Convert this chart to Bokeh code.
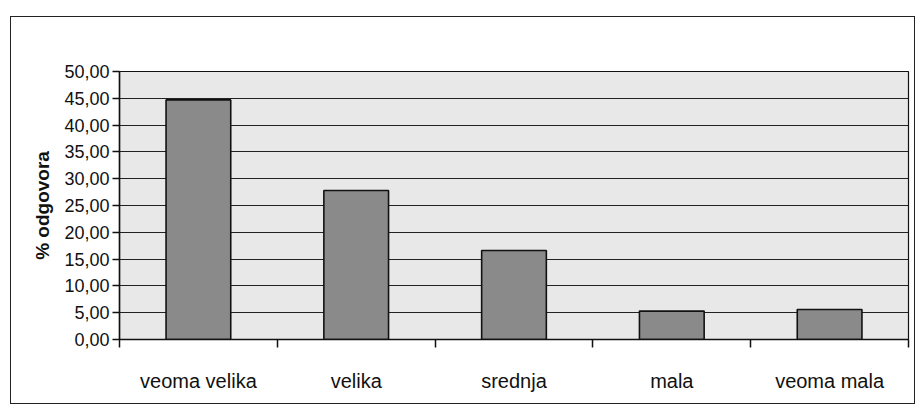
import numpy as np
from bokeh.plotting import figure
from bokeh.models import (Range1d, LinearAxis, FixedTicker, CustomJSTickFormatter,
                          ColumnDataSource, Spacer, Column, Row, Grid)
from bokeh.embed import file_html
from bokeh.resources import INLINE

categories = ["veoma velika", "velika", "srednja", "mala", "veoma mala"]
values = [44.7, 27.8, 16.6, 5.3, 5.6]
y_ticks = [0, 5, 10, 15, 20, 25, 30, 35, 40, 45, 50]
y_label = "% odgovora"

x_pos = np.arange(len(categories)) + 0.5
src = ColumnDataSource(dict(x=x_pos, top=values, cat=categories))

p = figure(width=905, height=388, output_backend="svg", toolbar_location=None,
           x_range=Range1d(0, len(categories)), y_range=Range1d(0, 50),
           x_axis_location=None, y_axis_location=None,
           min_border_left=108, min_border_right=8, min_border_top=54,
           min_border_bottom=66)
p.styles = {"border": "1.5px solid #222", "box-sizing": "border-box"}
p.background_fill_color = "#e8e8e8"
p.border_fill_color = "white"
p.outline_line_color = "#111"
p.outline_line_width = 1.2

p.vbar(x="x", top="top", width=0.41, source=src, fill_color="#8a8a8a",
       line_color="#111", line_width=1.6)

# y axis
yax = LinearAxis(ticker=FixedTicker(ticks=y_ticks),
                 formatter=CustomJSTickFormatter(code="return tick.toFixed(2).replace('.', ',');"))
yax.axis_label = y_label
yax.axis_label_text_font = "Liberation Sans"
yax.axis_label_text_font_style = "bold"
yax.axis_label_text_font_size = "19px"
yax.axis_label_text_color = "#111"
yax.axis_label_standoff = 8
yax.major_label_text_font = "Liberation Sans"
yax.major_label_text_font_size = "18px"
yax.major_label_text_color = "#111"
yax.major_label_standoff = 3
yax.major_tick_out = 7
yax.major_tick_in = 0
yax.minor_tick_line_color = None
yax.axis_line_color = "#111"
yax.axis_line_width = 1.5
yax.major_tick_line_color = "#111"
yax.major_tick_line_width = 1.5
p.add_layout(yax, "left")

# x axis: ticks at category boundaries (minor), labels at centres (major)
xax = LinearAxis(ticker=FixedTicker(ticks=list(x_pos),
                                    minor_ticks=list(range(len(categories) + 1))),
                 formatter=CustomJSTickFormatter(args=dict(cats=categories),
                                                 code="return cats[Math.floor(tick)];"))
xax.major_tick_out = 0
xax.major_tick_in = 0
xax.major_tick_line_color = None
xax.minor_tick_out = 8
xax.minor_tick_in = 0
xax.minor_tick_line_color = "#111"
xax.minor_tick_line_width = 1.5
xax.axis_line_color = "#111"
xax.axis_line_width = 1.5
xax.major_label_text_font = "Liberation Sans"
xax.major_label_text_font_size = "20px"
xax.major_label_text_color = "#111"
xax.major_label_standoff = 22
p.add_layout(xax, "below")

p.xgrid.visible = False
p.ygrid.visible = False
g = Grid(dimension=1, ticker=FixedTicker(ticks=y_ticks), grid_line_color="#222",
         grid_line_width=1.2)
p.add_layout(g, "center")

layout = Column(Spacer(height=16), Row(Spacer(width=10), p))
open("out.html", "w").write(file_html(layout, INLINE))
